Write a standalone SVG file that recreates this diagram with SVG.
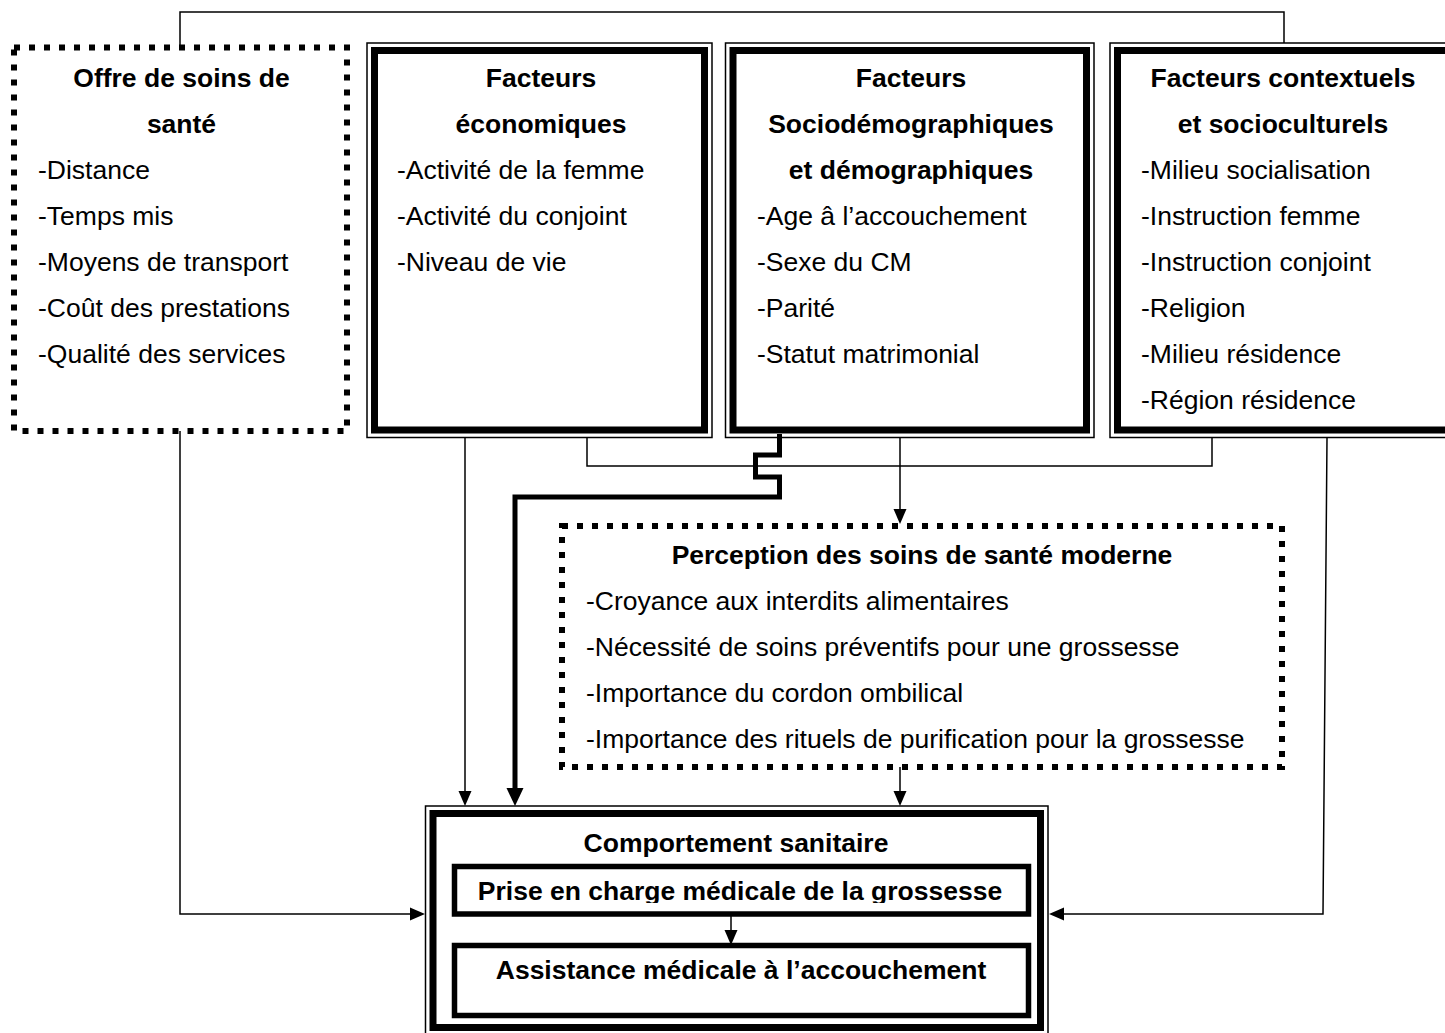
<svg xmlns="http://www.w3.org/2000/svg" width="1445" height="1033" viewBox="0 0 1445 1033">
<style>
text { font-family: "Liberation Sans", Arial, sans-serif; font-size: 26.5px; fill: #000; }
.b { font-weight: bold; text-anchor: middle; }
.thin { fill: none; stroke: #000; stroke-width: 1.5; }
.thick { fill: none; stroke: #000; stroke-width: 7; }
.inner { fill: none; stroke: #000; stroke-width: 5.5; }
.dot { fill: none; stroke: #000; stroke-width: 6; stroke-dasharray: 6 9; }
.conn { fill: none; stroke: #000; stroke-width: 1.5; }
.conn-bold { fill: none; stroke: #000; stroke-width: 5; }
</style>
<defs>
<marker id="arr" markerUnits="userSpaceOnUse" markerWidth="15" markerHeight="13" refX="0" refY="6.5" orient="auto" overflow="visible">
<path d="M0,0 L15,6.5 L0,13 z" fill="#000"/>
</marker>
<marker id="arrb" markerUnits="userSpaceOnUse" markerWidth="18" markerHeight="17" refX="0" refY="8.5" orient="auto" overflow="visible">
<path d="M0,0 L18,8.5 L0,17 z" fill="#000"/>
</marker>
<clipPath id="clipPrise"><rect x="456" y="868" width="571" height="35"/></clipPath>
</defs>
<rect width="1445" height="1033" fill="#fff"/>

<g id="connectors">
<path class="conn" d="M180,47 V12 H1284 V43"/>
<path class="conn" d="M180,431 V914 H410" marker-end="url(#arr)"/>
<path class="conn" d="M465,438 V791" marker-end="url(#arr)"/>
<path class="conn" d="M587,438 V466 H1212 V438"/>
<path class="conn-bold" d="M779.5,434 V455 H755.5 V477 H779.5 V497 H515 V788" marker-end="url(#arrb)"/>
<path class="conn" d="M900,438 V509" marker-end="url(#arr)"/>
<path class="conn" d="M900,767 V791" marker-end="url(#arr)"/>
<path class="conn" d="M1327,438 L1323,914 H1064" marker-end="url(#arr)"/>
<path class="conn" d="M731,916 V930" marker-end="url(#arr)"/>
</g>

<g id="offre">
<rect class="dot" x="14" y="47.5" width="333" height="383.5"/>
<text class="b" x="181.5" y="87">Offre de soins de</text>
<text class="b" x="181.5" y="133">santé</text>
<text x="38" y="179">-Distance</text>
<text x="38" y="225">-Temps mis</text>
<text x="38" y="271">-Moyens de transport</text>
<text x="38" y="317">-Coût des prestations</text>
<text x="38" y="363">-Qualité des services</text>
</g>

<g id="economiques">
<rect class="thin" x="367" y="43" width="345" height="394.5"/>
<rect class="thick" x="374.5" y="50.5" width="330" height="379.5"/>
<text class="b" x="541" y="87">Facteurs</text>
<text class="b" x="541" y="133">économiques</text>
<text x="397" y="179">-Activité de la femme</text>
<text x="397" y="225">-Activité du conjoint</text>
<text x="397" y="271">-Niveau de vie</text>
</g>

<g id="sociodemo">
<rect class="thin" x="725.5" y="43" width="368.5" height="394.5"/>
<rect class="thick" x="733" y="50.5" width="353.5" height="379.5"/>
<text class="b" x="911" y="87">Facteurs</text>
<text class="b" x="911" y="133">Sociodémographiques</text>
<text class="b" x="911" y="179">et démographiques</text>
<text x="757" y="225">-Age â l’accouchement</text>
<text x="757" y="271">-Sexe du CM</text>
<text x="757" y="317">-Parité</text>
<text x="757" y="363">-Statut matrimonial</text>
</g>

<g id="contextuels">
<rect class="thin" x="1110" y="43" width="350" height="394.5"/>
<rect class="thick" x="1117.5" y="50.5" width="335" height="379.5"/>
<text class="b" x="1283" y="87">Facteurs contextuels</text>
<text class="b" x="1283" y="133">et socioculturels</text>
<text x="1141" y="179">-Milieu socialisation</text>
<text x="1141" y="225">-Instruction femme</text>
<text x="1141" y="271">-Instruction conjoint</text>
<text x="1141" y="317">-Religion</text>
<text x="1141" y="363">-Milieu résidence</text>
<text x="1141" y="409">-Région résidence</text>
</g>

<g id="perception">
<rect class="dot" x="562" y="526" width="720" height="241"/>
<text class="b" x="922" y="564">Perception des soins de santé moderne</text>
<text x="586" y="610">-Croyance aux interdits alimentaires</text>
<text x="586" y="656">-Nécessité de soins préventifs pour une grossesse</text>
<text x="586" y="702">-Importance du cordon ombilical</text>
<text x="586" y="748">-Importance des rituels de purification pour la grossesse</text>
</g>

<g id="comportement">
<rect class="thin" x="425.5" y="806" width="622.5" height="229"/>
<rect class="thick" x="433" y="813.5" width="607.5" height="214"/>
<text class="b" x="736" y="852">Comportement sanitaire</text>
</g>

<g id="prise">
<rect class="inner" x="454.5" y="866.5" width="574" height="47.5"/>
<text class="b" x="740" y="900" clip-path="url(#clipPrise)">Prise en charge médicale de la grossesse</text>
</g>

<g id="assistance">
<rect class="inner" x="454.5" y="945.5" width="574" height="70"/>
<text class="b" x="741" y="979">Assistance médicale à l’accouchement</text>
</g>
</svg>
